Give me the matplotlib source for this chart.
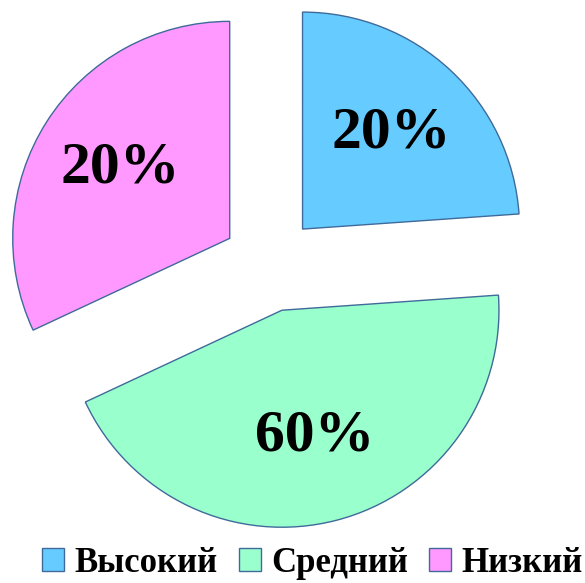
import numpy as np
import matplotlib
matplotlib.use("Agg")
import matplotlib.pyplot as plt
from matplotlib.patches import Wedge

# данные диаграммы
categories = ["Высокий", "Средний", "Низкий"]
shares = [20, 60, 20]
colors = ["#66CCFF", "#99FFCC", "#FF99FF"]

plt.rcParams["font.family"] = ["Liberation Serif", "DejaVu Serif"]


def tilt(t):
    """Искажение углов «объёмной» диаграммы (по часовой от 12 часов, градусы)."""
    return t + 36.6 * np.sin(np.radians(t + 35.0)) - 21.0


fig = plt.figure(figsize=(5.85, 5.83), dpi=100)
ax = fig.add_axes([0, 0, 1, 1])

explode = 0.22
label_dist = 0.6
edges = np.concatenate([[0], np.cumsum(shares)]) / sum(shares) * 360.0

handles = []
for i, share in enumerate(shares):
    s1, s2 = tilt(edges[i]), tilt(edges[i + 1])
    # переводим в углы matplotlib (против часовой от оси x)
    th2, th1 = 90.0 - s1, 90.0 - s2
    mid = np.radians((th1 + th2) / 2)
    cx, cy = explode * np.cos(mid), explode * np.sin(mid)
    w = Wedge((cx, cy), 1.0, th1, th2, facecolor=colors[i],
              edgecolor="#3F6A9A", linewidth=1.0)
    ax.add_patch(w)
    handles.append(w)
    ax.text(cx + label_dist * np.cos(mid), cy + label_dist * np.sin(mid),
            f"{share}%", ha="center", va="center",
            fontsize=43, fontweight="bold", color="black")

# центр круга ~ (270, 264) px, радиус ~217 px
ax.set_xlim(-270 / 217, (585 - 270) / 217)
ax.set_ylim(-(583 - 264) / 217, 264 / 217)
ax.axis("off")

fig.legend(
    handles, categories,
    loc="center", bbox_to_anchor=(0.534, 0.034),
    ncol=3, frameon=False,
    prop={"size": 25, "weight": "bold"},
    handlelength=0.64, handleheight=0.64,
    handletextpad=0.3, columnspacing=0.6,
)

fig.savefig("out.png", dpi=100)
plt.close(fig)
